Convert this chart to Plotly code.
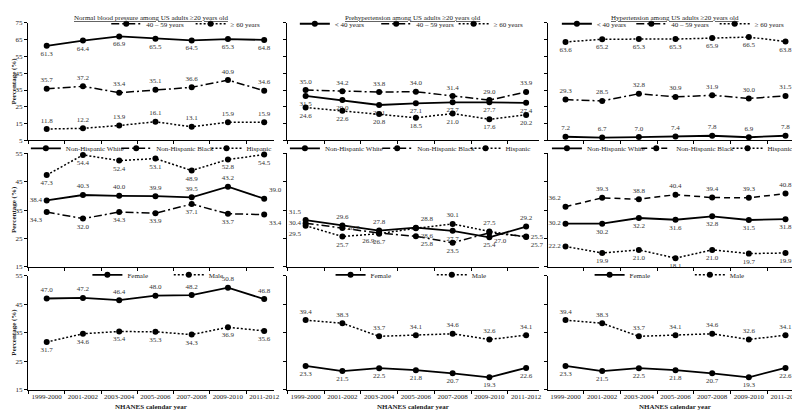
import plotly.graph_objects as go

years = ["1999-2000", "2001-2002", "2003-2004", "2005-2006", "2007-2008", "2009-2010", "2011-2012"]

titles = ["Normal blood pressure among US adults ≥20 years old",
          "Prehypertension among US adults ≥20 years old",
          "Hypertension among US adults ≥20 years old"]

age_names = ["< 40 years", "40 – 59 years", "≥ 60 years"]
race_names = ["Non-Hispanic White", "Non-Hispanic Black", "Hispanic"]
sex_names = ["Female", "Male"]

# Row 1: age groups
normal_lt40 = [61.3, 64.4, 66.9, 65.5, 64.5, 65.3, 64.8]
normal_40_59 = [35.7, 37.2, 33.4, 35.1, 36.6, 40.9, 34.6]
normal_ge60 = [11.8, 12.2, 13.9, 16.1, 13.1, 15.9, 15.9]

prehyp_lt40 = [31.5, 29.0, 26.1, 27.1, 27.7, 27.7, 27.4]
prehyp_40_59 = [35.0, 34.2, 33.8, 34.0, 31.4, 29.0, 33.9]
prehyp_ge60 = [24.6, 22.6, 20.8, 18.5, 21.0, 17.6, 20.2]

hyp_lt40 = [7.2, 6.7, 7.0, 7.4, 7.8, 6.9, 7.8]
hyp_40_59 = [29.3, 28.5, 32.8, 30.9, 31.9, 30.0, 31.5]
hyp_ge60 = [63.6, 65.2, 65.3, 65.3, 65.9, 66.5, 63.8]

# Row 2: race / ethnicity
normal_white = [38.4, 40.3, 40.0, 39.9, 39.5, 43.2, 39.0]
normal_black = [34.3, 32.0, 34.3, 33.9, 37.1, 33.7, 33.4]
normal_hisp = [47.3, 54.4, 52.4, 53.1, 48.9, 52.8, 54.5]

prehyp_white = [31.5, 29.6, 27.8, 28.8, 27.7, 25.4, 29.2]
prehyp_black = [30.4, 28.7, 26.9, 25.8, 23.5, 27.0, 25.7]
prehyp_hisp = [29.5, 25.7, 26.7, 28.6, 30.1, 27.5, 25.5]

hyp_white = [30.2, 30.2, 32.2, 31.6, 32.8, 31.5, 31.8]
hyp_black = [36.2, 39.3, 38.8, 40.4, 39.4, 39.3, 40.8]
hyp_hisp = [22.2, 19.9, 21.0, 18.1, 21.0, 19.7, 19.9]

# Row 3: sex
normal_female = [47.0, 47.2, 46.4, 48.0, 48.2, 50.8, 46.8]
normal_male = [31.7, 34.6, 35.4, 35.3, 34.3, 36.9, 35.6]

prehyp_female = [23.3, 21.5, 22.5, 21.8, 20.7, 19.3, 22.6]
prehyp_male = [39.4, 38.3, 33.7, 34.1, 34.6, 32.6, 34.1]

hyp_female = [23.3, 21.5, 22.5, 21.8, 20.7, 19.3, 22.6]
hyp_male = [39.4, 38.3, 33.7, 34.1, 34.6, 32.6, 34.1]

y_ticks_row1 = [5, 15, 25, 35, 45, 55, 65, 75]
y_ticks_row23 = [15, 25, 35, 45, 55]

FONT = "Liberation Serif"
SOLID = "solid"
DASHDOT = "8px,3px,2px,3px"
DOT = "2px,2px"
DASH = "6px,4px"

W, H = 800, 411
def px_x(v):
    return v / W
def px_y(v):
    return 1 - v / H

col_dom = [(20, 268), (281, 535), (544, 800)]
row_dom = [(11, 131), (144, 260), (269, 385)]
x_ranges = [[-0.52, 6.27], [-0.51, 6.35], [-0.48, 6.45]]
y_ranges = [[5, 75], [15, 55], [15, 55]]

T = "top center"; B = "bottom center"; L = "middle left"; R = "middle right"
TL = "top left"; TR = "top right"; BL = "bottom left"; BR = "bottom right"

panels = {
    (0, 0): [(age_names[0], normal_lt40, SOLID, [B]*7),
             (age_names[1], normal_40_59, DASHDOT, [T]*7),
             (age_names[2], normal_ge60, DOT, [T]*7)],
    (0, 1): [(age_names[0], prehyp_lt40, SOLID, [B]*7),
             (age_names[1], prehyp_40_59, DASHDOT, [T]*7),
             (age_names[2], prehyp_ge60, DOT, [B]*7)],
    (0, 2): [(age_names[0], hyp_lt40, SOLID, [T]*7),
             (age_names[1], hyp_40_59, DASHDOT, [T]*7),
             (age_names[2], hyp_ge60, DOT, [B]*7)],
    (1, 0): [(race_names[0], normal_white, SOLID, [L, T, T, T, T, T, TR]),
             (race_names[1], normal_black, DASHDOT, [BL, B, B, B, B, B, BR]),
             (race_names[2], normal_hisp, DOT, [B]*7)],
    (1, 1): [(race_names[0], prehyp_white, SOLID, [TL, T, T, TR, B, B, T]),
             (race_names[1], prehyp_black, DASHDOT, [L, R, BL, BR, B, BR, BR]),
             (race_names[2], prehyp_hisp, DOT, [BL, B, B, BR, T, T, R])],
    (1, 2): [(race_names[0], hyp_white, SOLID, [L, B, B, B, B, B, B]),
             (race_names[1], hyp_black, DASH, [TL, T, T, T, T, T, T]),
             (race_names[2], hyp_hisp, DOT, [L, B, B, B, B, B, B])],
    (2, 0): [(sex_names[0], normal_female, SOLID, [T]*7),
             (sex_names[1], normal_male, DOT, [B]*7)],
    (2, 1): [(sex_names[0], prehyp_female, SOLID, [B]*7),
             (sex_names[1], prehyp_male, DOT, [T]*7)],
    (2, 2): [(sex_names[0], hyp_female, SOLID, [B]*7),
             (sex_names[1], hyp_male, DOT, [T]*7)],
}

# legend symbol centres (px) per panel entry
legend_centres = {
    (0, 0): [52, 127, 212], (0, 1): [317, 399, 477], (0, 2): [581, 656, 740],
    (1, 0): [46, 137, 228], (1, 1): [307, 400, 489], (1, 2): [571, 661, 753],
    (2, 0): [108, 190], (2, 1): [353, 455], (2, 2): [614, 715],
}
legend_y = [12, 139, 268]

fig = go.Figure()
layout = dict(width=W, height=H, margin=dict(l=0, r=0, t=0, b=0),
              plot_bgcolor="white", paper_bgcolor="white",
              font=dict(family=FONT, size=7, color="#222"), annotations=[])

lg_count = 0
for (r, c), series in panels.items():
    k = r * 3 + c + 1
    xa = "x" if k == 1 else f"x{k}"
    ya = "y" if k == 1 else f"y{k}"
    for i, (name, vals, dash, tpos) in enumerate(series):
        lg_count += 1
        lg = "legend" if lg_count == 1 else f"legend{lg_count}"
        fig.add_trace(go.Scatter(
            x=years, y=vals, name=name, mode="lines+markers+text",
            text=[f"{v:.1f}" for v in vals], textposition=tpos,
            textfont=dict(family=FONT, size=7, color="#333"),
            line=dict(color="black", width=1.8 if dash == SOLID else 1.5, dash=dash),
            marker=dict(color="black", size=6, symbol="circle"),
            xaxis=xa, yaxis=ya, legend=lg, cliponaxis=False))
        cx = legend_centres[(r, c)][i]
        layout[lg] = dict(orientation="h", x=px_x(cx - 28), y=px_y(legend_y[r]),
                          xanchor="left", yanchor="middle", itemwidth=30,
                          bgcolor="rgba(0,0,0,0)",
                          font=dict(family=FONT, size=7, color="#222"))
    xk = "xaxis" if k == 1 else f"xaxis{k}"
    yk = "yaxis" if k == 1 else f"yaxis{k}"
    cd = col_dom[c]; rd = row_dom[r]
    layout[xk] = dict(domain=[px_x(cd[0]), px_x(cd[1])], anchor=ya, type="category",
                      range=x_ranges[c], showline=True, linecolor="black", linewidth=1,
                      ticks="outside", ticklen=3, tickcolor="black", tickson="boundaries",
                      showgrid=False, zeroline=False, showticklabels=(r == 2), tickangle=0,
                      tickfont=dict(family=FONT, size=7, color="#222"), fixedrange=True)
    yticks = y_ticks_row1 if r == 0 else y_ticks_row23
    layout[yk] = dict(domain=[px_y(rd[1]), px_y(rd[0])], anchor=xa, range=y_ranges[r],
                      tickvals=yticks, showline=True, linecolor="black", linewidth=1,
                      ticks="outside", ticklen=3, tickcolor="black", showgrid=False,
                      zeroline=False, showticklabels=(c == 0),
                      tickfont=dict(family=FONT, size=7, color="#222"), fixedrange=True)

# panel titles and axis titles
for c in range(3):
    cd = col_dom[c]
    layout["annotations"].append(dict(
        text=f"<u>{titles[c]}</u>", x=px_x((cd[0] + cd[1]) / 2), y=1.0, xref="paper", yref="paper",
        xanchor="center", yanchor="top", showarrow=False,
        font=dict(family=FONT, size=7, color="#222")))
    layout["annotations"].append(dict(
        text="<b>NHANES calendar year</b>", x=px_x((cd[0] + cd[1]) / 2), y=px_y(403),
        xref="paper", yref="paper", xanchor="center", yanchor="middle", showarrow=False,
        borderpad=0, font=dict(family=FONT, size=7, color="#222")))
for r in range(3):
    rd = row_dom[r]
    layout["annotations"].append(dict(
        text="<b>Percentage (%)</b>", x=0.0, y=px_y((rd[0] + rd[1]) / 2), xref="paper",
        yref="paper", xanchor="left", yanchor="middle", textangle=-90, showarrow=False,
        font=dict(family=FONT, size=7, color="#222")))

fig.update_layout(**layout)
fig.write_html("out.html")
